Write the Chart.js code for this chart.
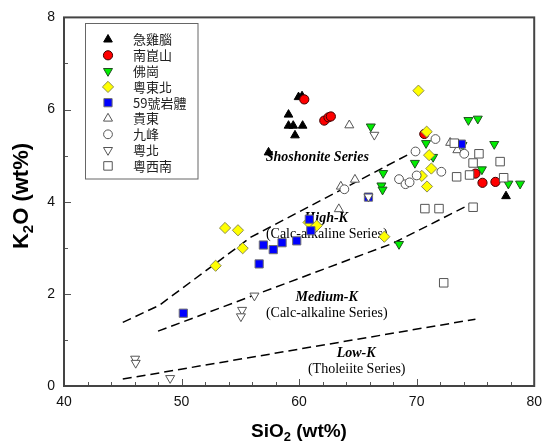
<!DOCTYPE html>
<html>
<head>
<meta charset="utf-8">
<script src="https://cdn.jsdelivr.net/npm/chart.js@4.4.1/dist/chart.umd.min.js"></script>
<style>
  html, body { margin: 0; padding: 0; background: #ffffff; }
  #wrap { width: 550px; height: 445px; }
</style>
</head>
<body>
<div id="wrap"><canvas id="k2o_sio2_chart" width="550" height="445"></canvas></div>
<script>
// SiO2 vs K2O (wt%) - rock groups
const group_names = ['急雞腦', '南崑山', '佛崗', '粵東北', '59號岩體', '貴東', '九峰', '粵北', '粵西南'];

// [SiO2, K2O]
const jijinao = [[59.95, 6.27], [60.25, 6.29], [59.1, 5.89], [59.1, 5.65], [59.5, 5.65], [60.3, 5.65], [59.65, 5.44], [57.4, 5.07], [77.6, 4.12]];
const nankunshan = [[60.44, 6.22], [62.14, 5.76], [62.5, 5.83], [62.7, 5.85], [70.65, 5.47], [75.0, 4.61], [75.6, 4.41], [76.7, 4.43]];
const fogang = [[66.1, 5.63], [69.85, 4.84], [70.8, 5.27], [71.4, 4.97], [67.15, 4.62], [67.0, 4.35], [67.1, 4.26], [74.4, 5.77], [75.2, 5.80], [73.9, 5.23], [76.6, 5.25], [75.55, 4.70], [77.8, 4.39], [78.8, 4.39], [68.5, 3.08]];
const yuedongbei = [[70.15, 6.41], [70.85, 5.52], [71.06, 5.01], [71.25, 4.72], [70.44, 4.56], [70.88, 4.33], [53.7, 3.43], [54.8, 3.38], [55.2, 2.99], [52.9, 2.61], [60.8, 3.55], [61.5, 3.48], [67.25, 3.24]];
const yanti59 = [[50.15, 1.58], [56.6, 2.65], [56.96, 3.06], [57.8, 2.96], [58.55, 3.11], [59.8, 3.15], [60.87, 3.62], [61.0, 3.37], [65.9, 4.10], [73.8, 5.25]];
const guidong = [[64.27, 5.66], [64.75, 4.48], [63.55, 4.33], [63.38, 3.84], [72.85, 5.28], [73.46, 5.12]];
const jiufeng = [[63.85, 4.27], [69.9, 5.09], [71.6, 5.36], [74.05, 5.04], [68.5, 4.49], [69.05, 4.38], [69.4, 4.42], [70.0, 4.57], [72.1, 4.65]];
const yuebei = [[66.4, 5.45], [65.9, 4.11], [56.2, 1.96], [55.15, 1.65], [55.05, 1.51], [46.05, 0.59], [46.1, 0.50], [49.03, 0.17]];
const yuexinan = [[73.2, 5.27], [75.3, 5.04], [74.8, 4.84], [77.1, 4.87], [73.4, 4.54], [74.5, 4.58], [77.4, 4.52], [70.7, 3.85], [71.9, 3.85], [74.8, 3.88], [72.3, 2.24]];

const group_points = [jijinao, nankunshan, fogang, yuedongbei, yanti59, guidong, jiufeng, yuebei, yuexinan];

// series boundary lines (dashed)
const shoshonite_sio2 = [45, 48.1, 55.9, 70];
const shoshonite_k2o = [1.38, 1.75, 3.23, 5.12];
const highk_sio2 = [48, 68, 74.6];
const highk_k2o = [1.19, 3.1, 3.95];
const lowk_sio2 = [45, 75];
const lowk_k2o = [0.15, 1.45];

// field names and where they sit (data coords)
const field_texts = ['Shoshonite Series', 'High-K', '(Calc-alkaline Series)', 'Medium-K', '(Calc-alkaline Series)', 'Low-K', '(Tholeiite Series)'];
const field_sio2 = [61.55, 62.3, 62.35, 62.35, 62.35, 64.85, 64.9];
const field_k2o = [4.96, 3.64, 3.30, 1.93, 1.57, 0.705, 0.37];
const field_bold = [true, true, false, true, false, true, false];

// marker look for each group
const marker_styles = [
    { style: 'triangle', rot: 0, fill: '#000000', line: '#000000', r: 5 },
    { style: 'circle', rot: 0, fill: '#ff0000', line: '#400000', r: 4.6 },
    { style: 'triangle', rot: 180, fill: '#00ee00', line: '#1f4f1f', r: 5.2 },
    { style: 'rectRot', rot: 0, fill: '#ffff00', line: '#8c8c50', r: 5.6 },
    { style: 'rect', rot: 0, fill: '#0000ff', line: '#707070', r: 5.8 },
    { style: 'triangle', rot: 0, fill: '#ffffff', line: '#555555', r: 5.2 },
    { style: 'circle', rot: 0, fill: '#ffffff', line: '#555555', r: 4.4 },
    { style: 'triangle', rot: 180, fill: '#ffffff', line: '#555555', r: 5.2 },
    { style: 'rect', rot: 0, fill: '#ffffff', line: '#555555', r: 6 }
];

function toXY(xs, ys) {
    return xs.map(function (x, i) { return { x: x, y: ys[i] }; });
}

let datasets = [];
group_points.forEach(function (pts, i) {
    let m = marker_styles[i];
    datasets.push({
        type: 'scatter',
        label: group_names[i],
        data: pts.map(function (p) { return { x: p[0], y: p[1] }; }),
        pointStyle: m.style,
        pointRotation: m.rot,
        pointRadius: m.r,
        pointBackgroundColor: m.fill,
        pointBorderColor: m.line,
        pointBorderWidth: 1,
        order: -i,
        clip: false
    });
});

[[shoshonite_sio2, shoshonite_k2o], [highk_sio2, highk_k2o], [lowk_sio2, lowk_k2o]].forEach(function (ln) {
    datasets.push({
        type: 'line',
        label: '',
        data: toXY(ln[0], ln[1]),
        borderColor: '#000000',
        borderWidth: 1.5,
        borderDash: [9, 5],
        pointRadius: 0,
        fill: false,
        tension: 0,
        order: 10
    });
});

// draw a label with a subscript part, centered on (cx, cy)
function drawSubText(ctx, parts, cx, cy, size) {
    let font = 'bold ' + size + 'px "Liberation Sans", Arial, sans-serif';
    let subFont = 'bold ' + Math.round(size * 0.7) + 'px "Liberation Sans", Arial, sans-serif';
    let total = 0;
    parts.forEach(function (p) {
        ctx.font = p.sub ? subFont : font;
        total += ctx.measureText(p.t).width;
    });
    let x = cx - total / 2;
    ctx.textBaseline = 'middle';
    ctx.textAlign = 'left';
    parts.forEach(function (p) {
        ctx.font = p.sub ? subFont : font;
        ctx.fillText(p.t, x, p.sub ? cy + size * 0.3 : cy);
        x += ctx.measureText(p.t).width;
    });
}

const plotDecor = {
    id: 'plotDecor',
    beforeDatasetsDraw(chart) {
        // field names go under the markers
        const ctx = chart.ctx;
        const xs = chart.scales.x, ys = chart.scales.y;
        ctx.save();
        ctx.fillStyle = '#000000';
        ctx.textAlign = 'center';
        ctx.textBaseline = 'middle';
        field_texts.forEach(function (t, i) {
            ctx.font = (field_bold[i] ? 'italic bold ' : '') + '14px "Liberation Serif", "Times New Roman", serif';
            ctx.fillText(t, xs.getPixelForValue(field_sio2[i]), ys.getPixelForValue(field_k2o[i]));
        });
        ctx.restore();
    },
    afterDraw(chart) {
        const ctx = chart.ctx;
        const a = chart.chartArea;
        const xs = chart.scales.x, ys = chart.scales.y;
        ctx.save();

        // inside ticks
        ctx.strokeStyle = '#555555';
        ctx.lineWidth = 1;
        ctx.beginPath();
        for (let v = 40; v <= 80; v += 2) {
            let px = Math.round(xs.getPixelForValue(v)) + 0.5;
            let len = (v % 10 === 0) ? 7 : 4;
            ctx.moveTo(px, a.bottom);
            ctx.lineTo(px, a.bottom - len);
        }
        for (let v = 0; v <= 8; v += 1) {
            let py = Math.round(ys.getPixelForValue(v)) + 0.5;
            let len = (v % 2 === 0) ? 7 : 4;
            ctx.moveTo(a.left, py);
            ctx.lineTo(a.left + len, py);
        }
        ctx.stroke();

        // frame
        ctx.strokeStyle = '#444444';
        ctx.lineWidth = 2;
        ctx.strokeRect(a.left, a.top, a.right - a.left, a.bottom - a.top);

        // legend box
        ctx.strokeStyle = '#666666';
        ctx.lineWidth = 1;
        ctx.strokeRect(85.5, 23.5, 112.5, 155.5);
        ctx.font = '13px "Noto Sans CJK TC", "Noto Sans CJK SC", sans-serif';
        ctx.textAlign = 'left';
        ctx.textBaseline = 'middle';
        group_names.forEach(function (name, i) {
            let m = marker_styles[i];
            let y = 39.5 + i * 15.8;
            ctx.fillStyle = m.fill;
            ctx.strokeStyle = m.line;
            ctx.lineWidth = 1;
            Chart.helpers.drawPoint(ctx, { pointStyle: m.style, rotation: m.rot, radius: m.r, borderWidth: 1 }, 108, y);
            ctx.fillStyle = '#222222';
            ctx.fillText(name, 133, y);
        });

        // axis titles
        ctx.fillStyle = '#000000';
        drawSubText(ctx, [{ t: 'SiO' }, { t: '2', sub: true }, { t: ' (wt%)' }], 299, 432, 19);
        ctx.translate(22, 196);
        ctx.rotate(-Math.PI / 2);
        drawSubText(ctx, [{ t: 'K' }, { t: '2', sub: true }, { t: 'O (wt%)' }], 0, 0, 22);
        ctx.restore();
    }
};

let ctx = document.getElementById('k2o_sio2_chart').getContext('2d');
const k2oChart = new Chart(ctx, {
    data: { datasets: datasets },
    options: {
        responsive: false,
        animation: false,
        devicePixelRatio: 1,
        layout: { padding: { left: 0, right: 14, top: 12, bottom: 0 } },
        plugins: {
            legend: { display: false },
            tooltip: { enabled: false }
        },
        scales: {
            x: {
                type: 'linear',
                min: 40,
                max: 80,
                ticks: {
                    stepSize: 10,
                    padding: 8,
                    color: '#111111',
                    font: { family: '"Liberation Sans", Arial, sans-serif', size: 14 }
                },
                grid: { display: false, drawTicks: false },
                border: { display: false },
                afterFit: function (scale) { scale.height = 59; }
            },
            y: {
                type: 'linear',
                min: 0,
                max: 8,
                ticks: {
                    stepSize: 2,
                    padding: 9,
                    color: '#111111',
                    font: { family: '"Liberation Sans", Arial, sans-serif', size: 14 }
                },
                grid: { display: false, drawTicks: false },
                border: { display: false },
                afterFit: function (scale) { scale.width = 64; }
            }
        }
    },
    plugins: [plotDecor]
});
</script>
</body>
</html>
